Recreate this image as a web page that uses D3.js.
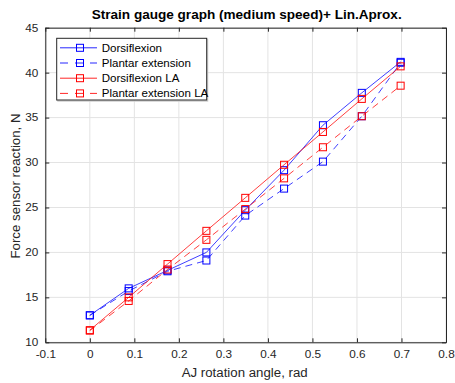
<!DOCTYPE html>
<html><head><meta charset="utf-8">
<script src="https://cdn.jsdelivr.net/npm/d3@7"></script>
<style>body{margin:0;background:#fff}svg{display:block;font-family:"Liberation Sans",Arial,sans-serif}</style>
</head><body><svg id="c" width="455" height="383"></svg>
<script>
const angles = [0, 0.0873, 0.1745, 0.2618, 0.3491, 0.4363, 0.5236, 0.6109, 0.6981];
const dorsiflexion = [13.0, 16.0, 18.0, 20.0, 24.7, 29.15, 34.15, 37.75, 41.2];
const plantarExtension = [13.0, 15.7, 17.9, 19.1, 24.1, 27.1, 30.1, 35.15, 41.1];
const dorsiflexionLA = [11.35, 15.0, 18.7, 22.4, 26.07, 29.75, 33.4, 37.08, 40.7];
const plantarExtensionLA = [11.3, 14.6, 18.1, 21.4, 24.82, 28.24, 31.7, 35.15, 38.55];
const seriesNames = ["Dorsiflexion", "Plantar extension", "Dorsiflexion LA", "Plantar extension LA"];
const xTicks = [-0.1, 0, 0.1, 0.2, 0.3, 0.4, 0.5, 0.6, 0.7, 0.8];
const yTicks = [10, 15, 20, 25, 30, 35, 40, 45];
const titleText = "Strain gauge graph (medium speed)+ Lin.Aprox.";
const xLabel = "AJ rotation angle, rad";
const yLabel = "Force sensor reaction, N";

const series = [
  {name: seriesNames[0], values: dorsiflexion, color: "rgb(0,0,255)", dash: null},
  {name: seriesNames[1], values: plantarExtension, color: "rgb(0,0,255)", dash: "7,5"},
  {name: seriesNames[2], values: dorsiflexionLA, color: "rgb(255,0,0)", dash: null},
  {name: seriesNames[3], values: plantarExtensionLA, color: "rgb(255,0,0)", dash: "7,5"}
];

const svg = d3.select("#c");
const L = 45.3, R = 446, T = 27.7, B = 342.3;
const x = d3.scaleLinear().domain([-0.1, 0.8]).range([L, R]);
const y = d3.scaleLinear().domain([10, 45]).range([B, T]);
const axisColor = "#262626";
function widen(sel, f) {
  sel.each(function() {
    const w = this.getComputedTextLength();
    if (w > 0) d3.select(this).attr("textLength", w * f).attr("lengthAdjust", "spacingAndGlyphs");
  });
}

// grid
const g = svg.append("g");
g.selectAll(".gx").data(xTicks).enter().append("line")
  .attr("x1", d => x(d)).attr("x2", d => x(d)).attr("y1", T).attr("y2", B)
  .attr("stroke", "#e3e3e3").attr("stroke-width", 1);
g.selectAll(".gy").data(yTicks).enter().append("line")
  .attr("x1", L).attr("x2", R).attr("y1", d => y(d)).attr("y2", d => y(d))
  .attr("stroke", "#e3e3e3").attr("stroke-width", 1);

// axes
const fmt = d => (Math.abs(d) < 1e-9 ? "0" : String(+d.toFixed(1)));
const xAxis = svg.append("g").attr("transform", `translate(0,${B})`)
  .call(d3.axisBottom(x).tickValues(xTicks).tickSizeInner(-4).tickSizeOuter(0).tickPadding(8).tickFormat(fmt));
const xAxisTop = svg.append("g").attr("transform", `translate(0,${T})`)
  .call(d3.axisTop(x).tickValues(xTicks).tickSizeInner(-4).tickSizeOuter(0).tickFormat(""));
const yAxis = svg.append("g").attr("transform", `translate(${L},0)`)
  .call(d3.axisLeft(y).tickValues(yTicks).tickSizeInner(-4).tickSizeOuter(0).tickPadding(7));
const yAxisR = svg.append("g").attr("transform", `translate(${R},0)`)
  .call(d3.axisRight(y).tickValues(yTicks).tickSizeInner(-4).tickSizeOuter(0).tickFormat(""));
[xAxis, xAxisTop, yAxis, yAxisR].forEach(a => {
  a.select(".domain").attr("stroke", axisColor);
  a.selectAll(".tick line").attr("stroke", axisColor);
  a.selectAll("text").attr("fill", "#262626").style("font-size", "10.5px").style("font-family", "Liberation Sans, Arial, sans-serif");
  widen(a.selectAll("text"), 1.12);
});

// lines and markers
const line = d3.line().x((d, i) => x(angles[i])).y(d => y(d));
series.forEach(s => {
  svg.append("path").attr("d", line(s.values)).attr("fill", "none")
    .attr("stroke", s.color).attr("stroke-width", 1).attr("stroke-opacity", 0.75)
    .attr("stroke-dasharray", s.dash);
  svg.selectAll(null).data(s.values).enter().append("rect")
    .attr("x", (d, i) => x(angles[i]) - 3.5).attr("y", d => y(d) - 3.5)
    .attr("width", 7).attr("height", 7).attr("fill", "none")
    .attr("stroke", s.color).attr("stroke-width", 1);
});

// legend
const lg = svg.append("g");
lg.append("rect").attr("x", 58).attr("y", 39.5).attr("width", 149.5).attr("height", 61.5)
  .attr("fill", "none").attr("stroke", "#cfcfcf").attr("stroke-width", 1.5);
lg.append("rect").attr("x", 56.7).attr("y", 38.3).attr("width", 150).attr("height", 61.7)
  .attr("fill", "#fff").attr("stroke", "#262626").attr("stroke-width", 1);
series.forEach((s, i) => {
  const yy = 47.8 + i * 15.2;
  lg.append("line").attr("x1", 60).attr("x2", 97).attr("y1", yy).attr("y2", yy)
    .attr("stroke", s.color).attr("stroke-width", 1).attr("stroke-opacity", 0.85)
    .attr("stroke-dasharray", s.dash ? "8,7" : null);
  lg.append("rect").attr("x", 80 - 3.5).attr("y", yy - 3.5).attr("width", 7).attr("height", 7)
    .attr("fill", "none").attr("stroke", s.color).attr("stroke-width", 1);
  const t = lg.append("text").attr("x", 101.7).attr("y", yy + 3.8).text(s.name)
    .style("font-size", "10.5px").attr("fill", "#000");
  widen(t, 1.10);
});

// title and labels
const title = svg.append("text").attr("x", 91.7).attr("y", 18.6)
  .style("font-size", "12px").style("font-weight", "bold").attr("fill", "#000").text(titleText);
title.attr("textLength", 310).attr("lengthAdjust", "spacingAndGlyphs");
const xl = svg.append("text").attr("x", 181.7).attr("y", 376.5)
  .style("font-size", "12.5px").attr("fill", "#262626").text(xLabel);
widen(xl, 1.06);
const yl = svg.append("text").attr("transform", `translate(19.5,${(T + B) / 2 + 1}) rotate(-90)`).attr("text-anchor", "middle")
  .style("font-size", "12.5px").attr("fill", "#262626").text(yLabel);
widen(yl, 1.06);
</script></body></html>
